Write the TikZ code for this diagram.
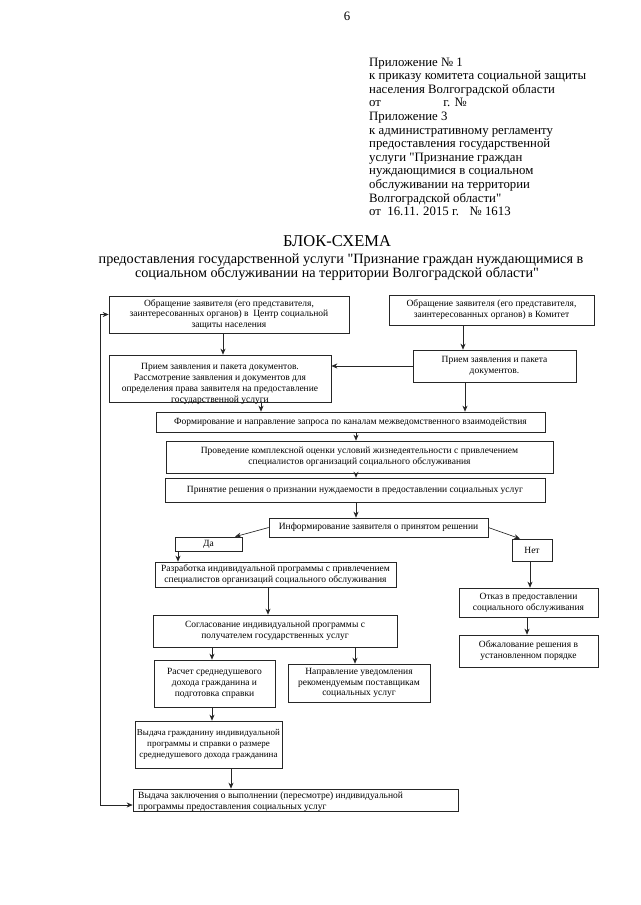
\documentclass[tikz,border=0pt]{standalone}
\usepackage{fontspec}
\setmainfont{Liberation Serif}[Ligatures=TeXOff]
\usetikzlibrary{arrows.meta}
\begin{document}
\begin{tikzpicture}[x=1pt,y=-1pt,
  box/.style={draw=black!85, line width=0.65pt, inner sep=1pt, align=center,
    font=\fontsize{9.5}{10.8}\selectfont},
  txt/.style={inner sep=0pt, align=center, font=\fontsize{9.5}{11}\selectfont},
  hdr/.style={anchor=base west, inner sep=0pt, font=\fontsize{12.8}{13.6}\selectfont},
  ttl/.style={anchor=base, inner sep=0pt, font=\fontsize{14.2}{15}\selectfont},
  arr/.style={draw=black!85, line width=0.65pt, -{Stealth[length=6pt,width=5pt]}},
  arrb/.style={draw=black!85, line width=0.65pt, {Stealth[length=6pt,width=5pt]}-{Stealth[length=6pt,width=5pt]}}
]
\useasboundingbox[fill=white] (0,0) rectangle (640,905);

% header
\node[anchor=base, inner sep=0pt, font=\fontsize{12.8}{13.6}\selectfont] (pg) at (347,20) {6};
\node[hdr] (h1) at (369,66) {Приложение № 1};
\node[hdr] (h2) at (369,79.6) {к приказу комитета социальной защиты};
\node[hdr] (h3) at (369,93.2) {населения Волгоградской области};
\node[hdr] (h4) at (369,106.8) {от \hspace{56pt} г. №};
\node[hdr] (h5) at (369,120.4) {Приложение 3};
\node[hdr] (h6) at (369,134) {к административному регламенту};
\node[hdr] (h7) at (369,147.6) {предоставления государственной};
\node[hdr] (h8) at (369,161.2) {услуги "Признание граждан};
\node[hdr] (h9) at (369,174.8) {нуждающимися в социальном};
\node[hdr] (h10) at (369,188.4) {обслуживании на территории};
\node[hdr] (h11) at (369,202) {Волгоградской области"};
\node[hdr] (h12) at (369,215.6) {от \ 16.11. 2015 г. \ \ № 1613};

% title
\node[ttl, font=\fontsize{16.5}{17}\selectfont] (t1) at (337,246) {БЛОК-СХЕМА};
\node[ttl] (t2) at (341,263) {предоставления государственной услуги "Признание граждан нуждающимися в};
\node[ttl] (t3) at (337,277) {социальном обслуживании на территории Волгоградской области"};

% boxes
\node[box, minimum width=240, minimum height=37] (b1) at (229,314.5)
  {Обращение заявителя (его представителя,\\заинтересованных органов) в \ Центр социальной\\защиты населения};
\node[box, minimum width=205, minimum height=30] (b2) at (491.5,310)
  {Обращение заявителя (его представителя,\\заинтересованных органов) в Комитет};
\node[box, minimum width=222, minimum height=47] (b3) at (220,378.5) {};
\node[txt] (b3t) at (220,384)
  {Прием заявления и пакета документов.\\Рассмотрение заявления и документов для\\определения права заявителя на предоставление\\государственной услуги};
\node[box, minimum width=163, minimum height=32] (b4) at (494.5,366)
  {Прием заявления и пакета\\документов.};
\node[box, minimum width=389, minimum height=20] (b5) at (350.5,422)
  {Формирование и направление запроса по каналам межведомственного взаимодействия};
\node[box, minimum width=387, minimum height=32] (b6) at (359.5,457)
  {Проведение комплексной оценки условий жизнедеятельности с привлечением\\специалистов организаций социального обслуживания};
\node[box, minimum width=380, minimum height=24] (b7) at (355,490)
  {Принятие решения о признании нуждаемости в предоставлении социальных услуг};
\node[box, minimum width=219, minimum height=19] (b8) at (378.5,527.5)
  {Информирование заявителя о принятом решении};
\node[box, minimum width=67, minimum height=14, inner sep=0pt] (b9) at (208.5,544) {Да};
\node[box, minimum width=40, minimum height=22] (b10) at (532,550) {Нет};
\node[box, minimum width=241, minimum height=25] (b11) at (275.5,574.5)
  {Разработка индивидуальной программы с привлечением\\специалистов организаций социального обслуживания};
\node[box, minimum width=139, minimum height=29] (b12) at (528.5,602.5)
  {Отказ в предоставлении\\социального обслуживания};
\node[box, minimum width=244, minimum height=32] (b13) at (275,631)
  {Согласование индивидуальной программы с\\получателем государственных услуг};
\node[box, minimum width=139, minimum height=32] (b14) at (528.5,651)
  {Обжалование решения в\\установленном порядке};
\node[box, minimum width=121, minimum height=47] (b15) at (214.5,683.5)
  {Расчет среднедушевого\\дохода гражданина и\\подготовка справки};
\node[box, minimum width=142, minimum height=38] (b16) at (359,683)
  {Направление уведомления\\рекомендуемым поставщикам\\социальных услуг};
\node[box, minimum width=147, minimum height=47, font=\fontsize{9}{10.8}\selectfont] (b17) at (208.5,744.5)
  {Выдача гражданину индивидуальной\\программы и справки о размере\\среднедушевого дохода гражданина};
\node[box, minimum width=325, minimum height=22] (b18) at (295.5,800) {};
\node[txt, anchor=west, align=left] (b18t) at (138,801.5)
  {Выдача заключения о выполнении (пересмотре) индивидуальной\\программы предоставления социальных услуг};

% connectors
\draw[arr] (223,0 |- b1.south) -- (223,0 |- b3.north);
\draw[arr] (463,0 |- b2.south) -- (463,0 |- b4.north);
\draw[arr] (b4.west) -- (b4.west -| b3.east);
\draw[arr] (261,0 |- b3.south) -- (261,0 |- b5.north);
\draw[arr] (465,0 |- b4.south) -- (465,0 |- b5.north);
\draw[arr] (356,0 |- b5.south) -- (356,0 |- b6.north);
\draw[arr] (356,0 |- b6.south) -- (356,0 |- b7.north);
\draw[arr] (356,0 |- b7.south) -- (356,0 |- b8.north);
\draw[arr] (b8.west) -- (235,0 |- b9.north);
\draw[arr] (b8.east) -- (520,0 |- b10.north);
\draw[arr] (178,0 |- b9.south) -- (178,0 |- b11.north);
\draw[arr] (530,0 |- b10.south) -- (530,0 |- b12.north);
\draw[arr] (268,0 |- b11.south) -- (268,0 |- b13.north);
\draw[arr] (527,0 |- b12.south) -- (527,0 |- b14.north);
\draw[arr] (212,0 |- b13.south) -- (212,0 |- b15.north);
\draw[arr] (355,0 |- b13.south) -- (355,0 |- b16.north);
\draw[arr] (212,0 |- b15.south) -- (212,0 |- b17.north);
\draw[arr] (231,0 |- b17.south) -- (231,0 |- b18.north);
\coordinate (fb) at (100,805);
\draw[arrb] (b1.west) -- (b1.west -| fb) -- (fb) -- (fb -| b18.west);
\end{tikzpicture}
\end{document}
